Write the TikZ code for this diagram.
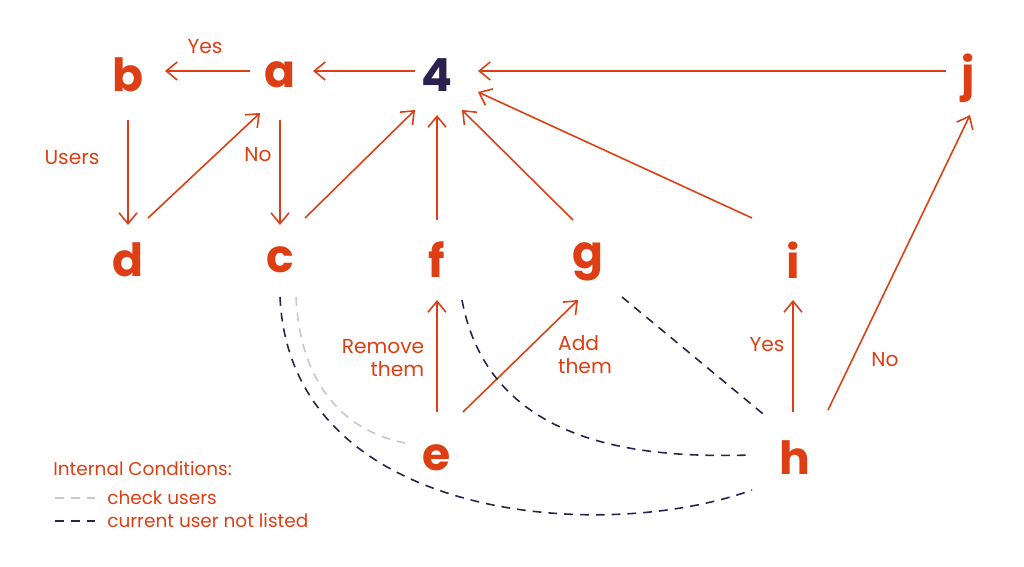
\documentclass[tikz,border=0pt]{standalone}
\usepackage{fontspec}
\setmainfont{Poppins}
\usetikzlibrary{arrows.meta}
\definecolor{flame}{HTML}{DD3E14}
\definecolor{ink}{HTML}{2B2150}
\definecolor{mist}{HTML}{C8C8CC}
\tikzset{
  letter/.style={text=flame,font=\fontsize{26}{26}\selectfont\bfseries,inner sep=2pt},
  link/.style={draw=flame,line width=0.9pt,-{Straight Barb[length=2.2mm,width=3.6mm]}},
  tag/.style={text=flame,font=\fontsize{11.5}{13}\selectfont,align=right},
  key/.style={text=flame,font=\fontsize{10.5}{12}\selectfont,anchor=west,inner sep=0pt},
  cond/.style={dashed,dash pattern=on 5pt off 4pt,line width=0.9pt}
}
\begin{document}
\begin{tikzpicture}[x=0.02cm,y=-0.02cm]
                \useasboundingbox (0,0) rectangle (1024,567);
                \node[letter] (b) at (128,75) {b};
                \node[letter] (a) at (280,75) {a};
                \node[letter,text=ink] (4) at (437,75) {4};
                \node[letter] (j) at (968,78) {j};
                \node[letter] (d) at (128,260) {d};
                \node[letter] (c) at (280,260) {c};
                \node[letter] (f) at (437,260) {f};
                \node[letter] (g) at (588,262) {g};
                \node[letter] (i) at (793,260) {i};
                \node[letter] (e) at (437,458) {e};
                \node[letter] (h) at (795,458) {h};
                % arrows
                \draw[link] (250,71) -- (165,71);
                \draw[link] (415,71) -- (313,71);
                \draw[link] (946,71) -- (478,71);
                \draw[link] (128,120) -- (128,225);
                \draw[link] (148,218) -- (260,113);
                \draw[link] (280,120) -- (280,225);
                \draw[link] (305,218) -- (415,110);
                \draw[link] (437,220) -- (437,115);
                \draw[link] (573,220) -- (462,110);
                \draw[link] (752,218) -- (478,92);
                \draw[link] (437,412) -- (437,300);
                \draw[link] (463,412) -- (578,300);
                \draw[link] (793,412) -- (793,300);
                \draw[link] (828,410) -- (970,115);
                % labels
                \node[tag] (yes1) at (205,47) {Yes};
                \node[tag] (users) at (72,158) {Users};
                \node[tag] (no1) at (258,155) {No};
                \node[tag] (remove) at (383,358) {Remove\\them};
                \node[tag,align=left] (add) at (585,355) {Add\\them};
                \node[tag] (yes2) at (767,345) {Yes};
                \node[tag] (no2) at (885,360) {No};
                % conditions
                \draw[cond,mist] (296,297) .. controls (300,380) and (340,430) .. (405,443);
                \draw[cond,ink] (280,297) .. controls (290,520) and (600,545) .. (752,490);
                \draw[cond,ink] (462,300) .. controls (490,450) and (650,458) .. (752,455);
                \draw[cond,ink] (622,297) -- (768,418);
                % legend
                \node[key] (legend) at (53,469) {Internal Conditions:};
                \draw[cond,mist] (55,498) -- (97,498);
                \node[key] (check) at (107,498) {check users};
                \draw[cond,ink] (55,521) -- (97,521);
                \node[key] (listed) at (107,521) {current user not listed};
            \end{tikzpicture}
\end{document}
